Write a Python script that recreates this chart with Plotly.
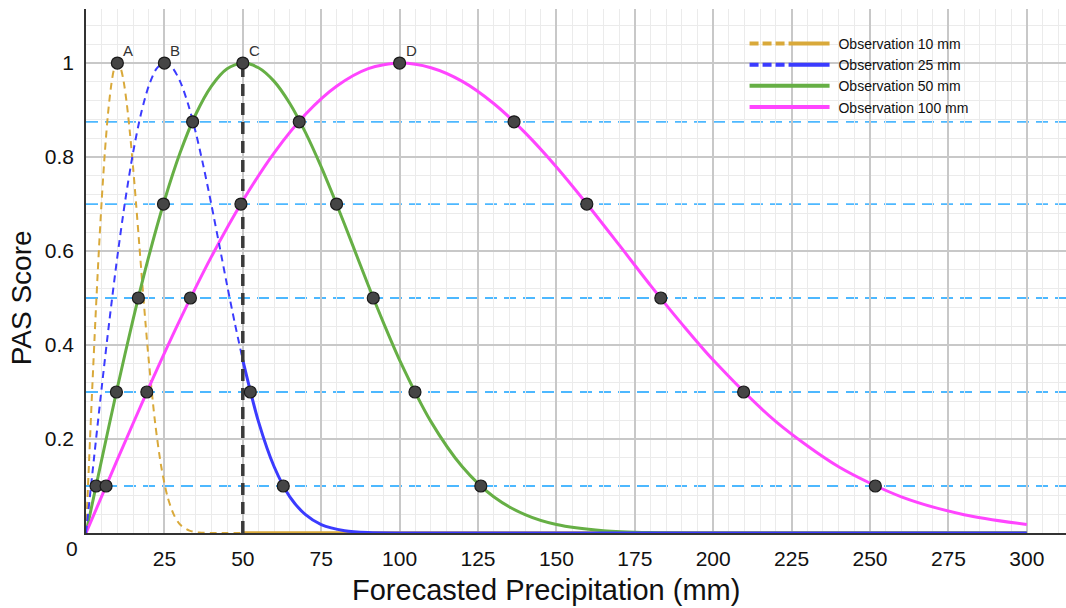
import plotly.graph_objects as go

# ---------------- data ----------------
orange_dash_x = [0, 1, 2, 3, 4, 5, 6, 7, 8, 9, 10, 11, 12, 13, 14, 15, 16, 17, 18, 19, 20,
                 22, 24, 26, 28, 30, 33, 36, 40, 45, 50]
orange_dash_y = [0, 0.156, 0.309, 0.454, 0.588, 0.707, 0.809, 0.891, 0.951, 0.988, 1,
                 0.990, 0.961, 0.914, 0.852, 0.779, 0.698, 0.613, 0.527, 0.445, 0.368,
                 0.237, 0.141, 0.077, 0.039, 0.018, 0.005, 0.001, 0, 0, 0]
orange_solid_x = [50, 300]
orange_solid_y = [0, 0]

blue_dash_x = [0, 2.5, 5, 7.5, 10, 12.5, 15, 17.5, 20, 22.5, 25, 27.5, 30, 32.5, 35, 37.5,
               40, 42.5, 45, 47.5, 50]
blue_dash_y = [0, 0.156, 0.309, 0.454, 0.588, 0.707, 0.809, 0.891, 0.951, 0.988, 1,
               0.990, 0.961, 0.914, 0.852, 0.779, 0.698, 0.613, 0.527, 0.445, 0.368]
blue_solid_x = [50, 55, 60, 65, 70, 75, 82.5, 90, 100, 120, 300]
blue_solid_y = [0.368, 0.237, 0.141, 0.077, 0.039, 0.018, 0.005, 0.001, 0, 0, 0]

green_x = [0, 5, 10, 15, 20, 25, 30, 35, 40, 45, 50, 55, 60, 65, 70, 75, 80, 85, 90, 95, 100,
           110, 120, 130, 140, 150, 165, 180, 200, 250, 300]
green_y = [0, 0.156, 0.309, 0.454, 0.588, 0.707, 0.809, 0.891, 0.951, 0.988, 1,
           0.990, 0.961, 0.914, 0.852, 0.779, 0.698, 0.613, 0.527, 0.445, 0.368,
           0.237, 0.141, 0.077, 0.039, 0.018, 0.005, 0.001, 0, 0, 0]

pink_x = [0, 10, 20, 30, 40, 50, 60, 70, 80, 90, 100, 110, 120, 130, 140, 150, 160, 170,
          180, 190, 200, 220, 240, 260, 280, 300]
pink_y = [0, 0.156, 0.309, 0.454, 0.588, 0.707, 0.809, 0.891, 0.951, 0.988, 1,
          0.990, 0.961, 0.914, 0.852, 0.779, 0.698, 0.613, 0.527, 0.445, 0.368,
          0.237, 0.141, 0.077, 0.039, 0.018]

point_x = [10, 25, 50, 100,
           34, 68, 136.5,
           24.7, 49.4, 79.9, 159.7,
           16.7, 33.3, 91.6, 183.3,
           9.7, 19.4, 52.4, 104.9, 209.7,
           3.2, 6.4, 62.9, 125.9, 251.7]
point_y = [1, 1, 1, 1,
           0.875, 0.875, 0.875,
           0.7, 0.7, 0.7, 0.7,
           0.5, 0.5, 0.5, 0.5,
           0.3, 0.3, 0.3, 0.3, 0.3,
           0.1, 0.1, 0.1, 0.1, 0.1]

peak_labels = ["A", "B", "C", "D"]
peak_x = [10, 25, 50, 100]
peak_y = [1, 1, 1, 1]

threshold_levels = [0.1, 0.3, 0.5, 0.7, 0.875]
observed_line_x = [50, 50]
observed_line_y = [0, 1]

legend_names = ["Observation 10 mm", "Observation 25 mm",
                "Observation 50 mm", "Observation 100 mm"]

x_tickvals = [25, 50, 75, 100, 125, 150, 175, 200, 225, 250, 275, 300]
y_tickvals = [0.2, 0.4, 0.6, 0.8, 1.0]
y_ticktext = ["0.2", "0.4", "0.6", "0.8", "1"]

# ---------------- styling ----------------
ORANGE = "#D9A93A"
BLUE = "#3B3BFF"
GREEN = "#66AF45"
PINK = "#FF45FF"
FONT = "Liberation Sans, Arial, sans-serif"

fig = go.Figure()

def curve(x, y, color, width, dash=None):
    fig.add_trace(go.Scatter(
        x=x, y=y, mode="lines", showlegend=False, hoverinfo="skip",
        line=dict(color=color, width=width, dash=dash, shape="spline", smoothing=0.8),
    ))

curve(orange_dash_x, orange_dash_y, ORANGE, 2, "7px,5px")
curve(orange_solid_x, orange_solid_y, ORANGE, 3.5)
curve(green_x, green_y, GREEN, 3)
curve(pink_x, pink_y, PINK, 3)
curve(blue_dash_x, blue_dash_y, BLUE, 2, "7px,5px")
curve(blue_solid_x, blue_solid_y, BLUE, 3)

# vertical observed line
fig.add_trace(go.Scatter(
    x=observed_line_x, y=observed_line_y, mode="lines", showlegend=False, hoverinfo="skip",
    line=dict(color="#3a3a3a", width=3.5, dash="12px,7px"),
))

# points
fig.add_trace(go.Scatter(
    x=point_x, y=point_y, mode="markers", showlegend=False, hoverinfo="skip",
    marker=dict(size=12, color="#454545", line=dict(color="#1a1a1a", width=1.2)),
))

# legend-only entries
legend_styles = [
    (ORANGE, "9px,4px,9px,4px,9px,4px,300px"),
    (BLUE, "9px,4px,9px,4px,9px,4px,300px"),
    (GREEN, None),
    (PINK, None),
]
for name, (color, dash) in zip(legend_names, legend_styles):
    fig.add_trace(go.Scatter(
        x=[None], y=[None], mode="lines", name=" " + name,
        line=dict(color=color, width=4, dash=dash),
    ))

# horizontal threshold lines
for lv in threshold_levels:
    fig.add_shape(type="line", xref="paper", x0=0, x1=1, yref="y", y0=lv, y1=lv,
                  line=dict(color="#4DB8FF", width=1.8, dash="12px,7px"), layer="between")

annotations = []
for lab, px, py in zip(peak_labels, peak_x, peak_y):
    annotations.append(dict(x=px, y=py, text=lab, showarrow=False, xanchor="left",
                            yanchor="middle", xshift=4, yshift=13,
                            font=dict(size=15, color="#333333", family=FONT)))
annotations.append(dict(x=-0.0143, xref="paper", y=-0.0305, yref="paper", text="0",
                        showarrow=False, xanchor="center", yanchor="middle",
                        font=dict(size=21, color="#111111", family=FONT)))
annotations.append(dict(x=146.7, xref="x", y=-0.109, yref="paper",
                        text="Forecasted Precipitation (mm)", showarrow=False,
                        xanchor="center", yanchor="middle",
                        font=dict(size=29, color="#111111", family=FONT)))
annotations.append(dict(x=-0.066, xref="paper", y=0.5, yref="y",
                        text="PAS Score", showarrow=False, textangle=-90,
                        xanchor="center", yanchor="middle",
                        font=dict(size=28, color="#111111", family=FONT)))

fig.update_layout(
    width=1066, height=608,
    margin=dict(l=86, r=0, t=9, b=75),
    paper_bgcolor="white", plot_bgcolor="white",
    font=dict(family=FONT, color="#111111"),
    showlegend=True,
    legend=dict(x=0.672, y=0.964, xanchor="left", yanchor="top",
                bgcolor="rgba(0,0,0,0)", font=dict(size=14, color="#111111"),
                itemwidth=80, tracegroupgap=0),
    annotations=annotations,
    xaxis=dict(
        range=[0, 312.5], tickmode="array", tickvals=x_tickvals,
        showgrid=True, gridcolor="#C8C8C8", gridwidth=1.5,
        zeroline=False, showline=True, linecolor="#333333", linewidth=1.5,
        ticks="", tickfont=dict(size=21, color="#111111"), ticklabelstandoff=6,
        minor=dict(dtick=5, tick0=0, showgrid=True, gridcolor="#EBEBEB", gridwidth=1),
    ),
    yaxis=dict(
        range=[0, 1.115], tickmode="array", tickvals=y_tickvals, ticktext=y_ticktext,
        showgrid=True, gridcolor="#C8C8C8", gridwidth=1.5,
        zeroline=False, showline=True, linecolor="#333333", linewidth=1.5,
        ticks="", tickfont=dict(size=21, color="#111111"), ticklabelstandoff=6,
        minor=dict(dtick=0.04, tick0=0, showgrid=True, gridcolor="#EBEBEB", gridwidth=1),
    ),
)

fig.write_html("out.html", config={"displayModeBar": False},
               post_script="document.body.style.margin='0';")
